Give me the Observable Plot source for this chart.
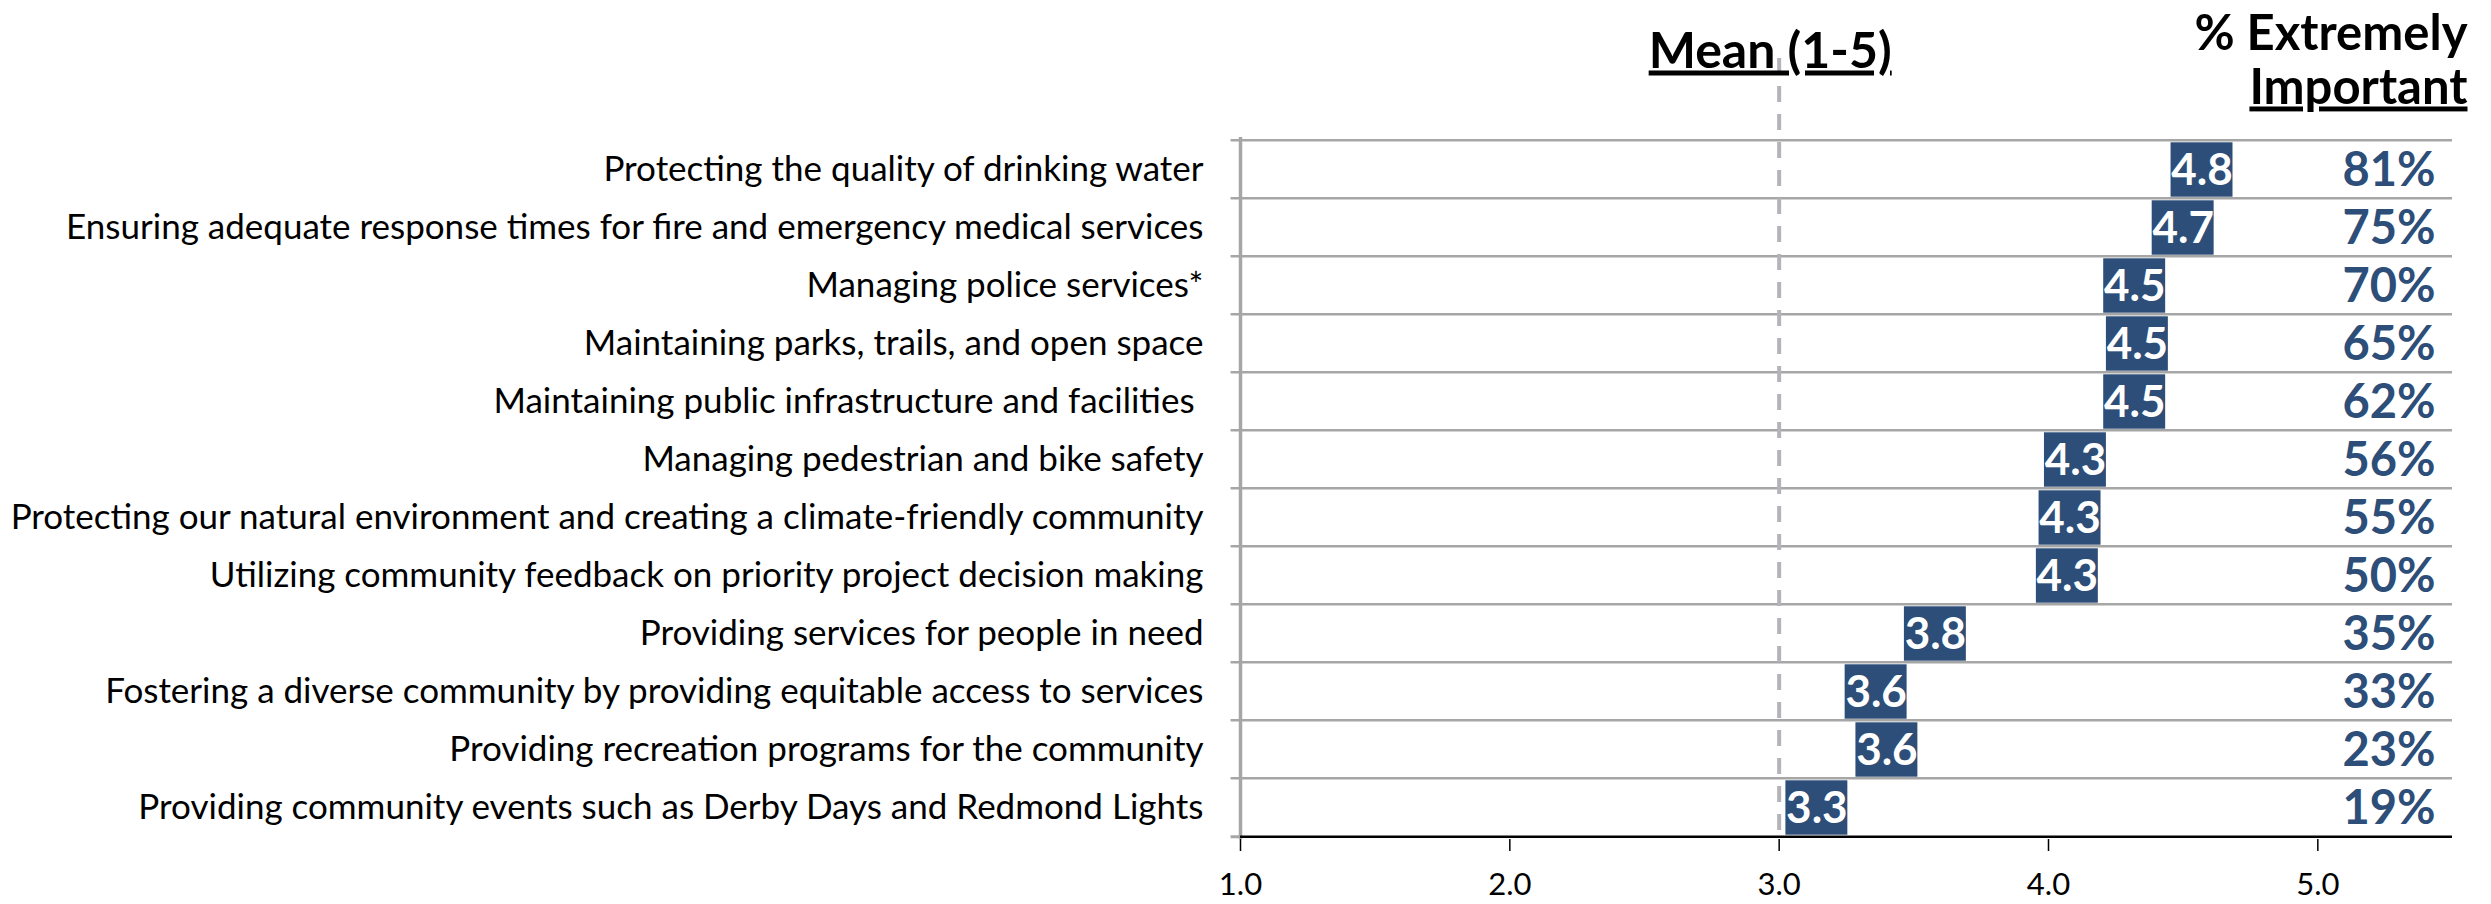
<!DOCTYPE html>
<html>
<head>
<meta charset="utf-8">
<script src="https://cdn.jsdelivr.net/npm/d3@7"></script>
<script src="https://cdn.jsdelivr.net/npm/@observablehq/plot@0.6"></script>
<style>
  html, body { margin: 0; padding: 0; background: #ffffff; }
  #chart svg { display: block; }
</style>
</head>
<body>
<div id="chart"></div>
<script>
// ---- data ----
const categories = [
  "Protecting the quality of drinking water",
  "Ensuring adequate response times for fire and emergency medical services",
  "Managing police services*",
  "Maintaining parks, trails, and open space",
  "Maintaining public infrastructure and facilities ",
  "Managing pedestrian and bike safety",
  "Protecting our natural environment and creating a climate-friendly community",
  "Utilizing community feedback on priority project decision making",
  "Providing services for people in need",
  "Fostering a diverse community by providing equitable access to services",
  "Providing recreation programs for the community",
  "Providing community events such as Derby Days and Redmond Lights"
];
const means = [4.77, 4.70, 4.52, 4.53, 4.52, 4.30, 4.28, 4.27, 3.78, 3.56, 3.60, 3.34];
const pctExtremely = [81, 75, 70, 65, 62, 56, 55, 50, 35, 33, 23, 19];
const xTicks = [1, 2, 3, 4, 5];
const scaleMidpoint = 3;
const meanTitle = "Mean (1-5)";
const pctTitleLine1 = "% Extremely";
const pctTitleLine2 = "Important";

// ---- table built from the arrays ----
const rows = categories.map((c, i) => ({category: c, mean: means[i], pct: pctExtremely[i]}));

// ---- layout / style ----
const W = 2491, H = 904;
const mt = 137, mb = 65, ml = 1240, mr = 39;
const rowH = (H - mt - mb) / categories.length;
const blue = "#2c4e78";
const grid = "#a6a6a6";
const font = "Lato, 'Open Sans', sans-serif";
const labelShift = 0.2;   // data-label box sits just inside the bar end
const boxHalf = 0.115;    // half-width of the label box (x units)
const stub = 0.035;       // left tick stub length (x units)

const chart = Plot.plot({
  width: W,
  height: H,
  marginTop: mt,
  marginBottom: mb,
  marginLeft: ml,
  marginRight: mr,
  style: {fontFamily: font, background: "#ffffff", color: "#000"},
  x: {domain: [1, 5.5], ticks: xTicks, tickFormat: d3.format(".1f"), label: null},
  y: {domain: categories, padding: 0, label: null},
  marks: [
    // horizontal gridlines at band edges (with left stubs)
    Plot.ruleY(categories, {y: d => d, dy: -rowH / 2, x1: 1 - stub, x2: 5.5, stroke: grid, strokeWidth: 2.5}),
    Plot.ruleY([categories[categories.length - 1]], {y: d => d, dy: rowH / 2, x1: 1 - stub, x2: 1, stroke: grid, strokeWidth: 3}),
    // left axis line
    Plot.ruleX([1], {stroke: grid, strokeWidth: 3.5}),
    // dashed midpoint line
    Plot.ruleX([scaleMidpoint], {stroke: "#b3b3b8", strokeWidth: 4, strokeDasharray: "16,12", insetTop: -79}),
    // label boxes
    Plot.barX(rows, {
      y: "category",
      x1: d => d.mean - labelShift - boxHalf,
      x2: d => d.mean - labelShift + boxHalf,
      fill: blue,
      insetTop: 2.3,
      insetBottom: 1.3
    }),
    Plot.text(rows, {
      y: "category",
      x: d => d.mean - labelShift,
      text: d => d.mean.toFixed(1),
      fill: "#ffffff",
      fontWeight: "bold",
      fontSize: 44,
      textAnchor: "middle",
      dy: 1
    }),
    // % extremely important column
    Plot.text(rows, {
      y: "category",
      frameAnchor: "right",
      dx: -17,
      text: d => d.pct + "%",
      fill: blue,
      fontWeight: "bold",
      fontSize: 47,
      textAnchor: "end",
      dy: 1
    }),
    // bottom axis line
    Plot.ruleY([categories[categories.length - 1]], {y: d => d, dy: rowH / 2, x1: 1, x2: 5.5, stroke: "#000", strokeWidth: 2.5}),
    // axes
    Plot.axisX({ticks: xTicks, tickFormat: d3.format(".1f"), tickSize: 12, tickPadding: 21, fontSize: 31, stroke: "#000", strokeWidth: 1.5, label: null}),
    Plot.axisY({tickSize: 0, tickPadding: 37, fontSize: 35, fill: "#000", label: null}),
    // column headers
    Plot.text([meanTitle], {
      x: scaleMidpoint, frameAnchor: "top", text: d => d, textAnchor: "middle", lineAnchor: "bottom",
      dx: -9, dy: -70, fontSize: 50, fontWeight: "bold", fill: "#000"
    }),
    Plot.text([pctTitleLine1], {
      frameAnchor: "top-right", text: d => d, textAnchor: "end", lineAnchor: "bottom",
      dx: 15, dy: -88, fontSize: 49, fontWeight: "bold", fill: "#000"
    }),
    Plot.text([pctTitleLine2], {
      frameAnchor: "top-right", text: d => d, textAnchor: "end", lineAnchor: "bottom",
      dx: 15, dy: -34, fontSize: 49, fontWeight: "bold", fill: "#000"
    })
  ]
});

const underlined = new Set([meanTitle, pctTitleLine2]);
d3.select(chart).selectAll("text")
  .filter(function() { return underlined.has(this.textContent); })
  .style("text-decoration", "underline");
d3.select(chart).selectAll("text").style("white-space", "pre");
document.getElementById("chart").appendChild(chart);
</script>
</body>
</html>
